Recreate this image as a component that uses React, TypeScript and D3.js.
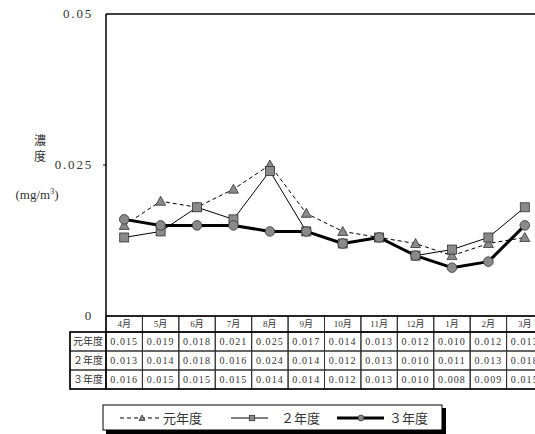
import React from "react";
import * as d3 from "d3";

const months = ["4月", "5月", "6月", "7月", "8月", "9月", "10月", "11月", "12月", "1月", "2月", "3月"];
const seriesNames = ["元年度", "２年度", "３年度"];
const rowLabels = ["元年度", "２年度", "３年度"];
const r1 = [0.015, 0.019, 0.018, 0.021, 0.025, 0.017, 0.014, 0.013, 0.012, 0.010, 0.012, 0.013];
const r2 = [0.013, 0.014, 0.018, 0.016, 0.024, 0.014, 0.012, 0.013, 0.010, 0.011, 0.013, 0.018];
const r3 = [0.016, 0.015, 0.015, 0.015, 0.014, 0.014, 0.012, 0.013, 0.010, 0.008, 0.009, 0.015];
const yTicks = [0, 0.025, 0.05];
const yTickLabels = ["0", "0.025", "0.05"];

const W = 535;
const H = 434;
const left = 106;
const right = 543;
const top = 14;
const bottom = 316;
const labelLeft = 70;
const headerBottom = 332;
const rowH = 19;

const serif = "'Liberation Serif', 'DejaVu Serif', 'Noto Sans CJK JP', serif";
const cjk = "'Noto Sans CJK JP', sans-serif";

function Marker({ kind, x, y, s = 1 }: { kind: number; x: number; y: number; s?: number }) {
  const fill = "#8a8a8a";
  const stroke = "#333";
  if (kind === 0) {
    const r = 5 * s;
    return (
      <path
        d={`M${x},${y - r} L${x + r},${y + r * 0.8} L${x - r},${y + r * 0.8} Z`}
        fill={fill}
        stroke={stroke}
        strokeWidth={0.8}
      />
    );
  }
  if (kind === 1) {
    const h = 4.5 * s;
    return <rect x={x - h} y={y - h} width={2 * h} height={2 * h} fill={fill} stroke={stroke} strokeWidth={0.8} />;
  }
  return <circle cx={x} cy={y} r={4.8 * s} fill={fill} stroke={stroke} strokeWidth={0.8} />;
}

export default function App() {
  const data = [r1, r2, r3];
  const x = d3.scaleBand<string>().domain(months).range([left, right]);
  const y = d3.scaleLinear().domain([0, 0.05]).range([bottom, top]);
  const cx = (m: string) => (x(m) as number) + x.bandwidth() / 2;
  const line = d3
    .line<number>()
    .x((_, i) => cx(months[i]))
    .y((d) => y(d));

  const lineStyles = [
    { w: 1, dash: "4,3" },
    { w: 1, dash: undefined },
    { w: 3, dash: undefined },
  ];

  const tableBottom = headerBottom + rowH * 3;

  return (
    <svg
      width={W}
      height={H}
      style={{ position: "fixed", left: 0, top: 0, background: "#fff" }}
    >
      <rect x={0} y={0} width={W} height={H} fill="#fff" />
      {/* y axis labels */}
      {yTicks.map((t, i) => (
        <g key={t}>
          <text
            x={93}
            y={y(t) + 4}
            textAnchor="end"
            fontFamily={serif}
            fontSize={13}
            letterSpacing={1.8}
            fill="#333"
          >
            {yTickLabels[i]}
          </text>
          {t > 0 && t < 0.05 && <line x1={left - 3} x2={left} y1={y(t)} y2={y(t)} stroke="#000" />}
        </g>
      ))}
      <text x={40} y={145} textAnchor="middle" fontFamily={cjk} fontSize={12} fill="#333">
        濃
      </text>
      <text x={40} y={161} textAnchor="middle" fontFamily={cjk} fontSize={12} fill="#333">
        度
      </text>
      <text x={37} y={199} textAnchor="middle" fontFamily={serif} fontSize={13} fill="#333">
        (mg/m<tspan fontSize={8} dy={-5}>3</tspan>
        <tspan dy={5}>)</tspan>
      </text>

      {/* plot frame */}
      <line x1={left} x2={left} y1={top} y2={bottom} stroke="#000" strokeWidth={1.5} />
      <line x1={left} x2={W} y1={top} y2={top} stroke="#000" strokeWidth={1.5} />

      {/* lines */}
      {data.map((s, k) => (
        <path
          key={k}
          d={line(s) || ""}
          fill="none"
          stroke="#000"
          strokeWidth={lineStyles[k].w}
          strokeDasharray={lineStyles[k].dash}
          strokeLinejoin="round"
        />
      ))}
      {data.map((s, k) =>
        s.map((v, i) => <Marker key={`${k}-${i}`} kind={k} x={cx(months[i])} y={y(v)} />)
      )}

      {/* table */}
      <g>
        {months.map((m) => (
          <g key={m}>
            <rect
              x={x(m) as number}
              y={bottom}
              width={x.bandwidth()}
              height={headerBottom - bottom}
              fill="none"
              stroke="#333"
              strokeWidth={1}
            />
            <text
              x={cx(m)}
              y={bottom + 11}
              textAnchor="middle"
              fontFamily={serif}
              fontSize={9}
              fill="#333"
            >
              {m}
            </text>
          </g>
        ))}
        {rowLabels.map((lab, r) => {
          const ry = headerBottom + r * rowH;
          return (
            <g key={lab}>
              <rect x={labelLeft} y={ry} width={left - labelLeft} height={rowH} fill="none" stroke="#333" />
              <text
                x={(labelLeft + left) / 2}
                y={ry + 13}
                textAnchor="middle"
                fontFamily={cjk}
                fontSize={10}
                fill="#333"
              >
                {lab}
              </text>
              {months.map((m, i) => (
                <g key={m}>
                  <rect x={x(m) as number} y={ry} width={x.bandwidth()} height={rowH} fill="none" stroke="#333" />
                  <text
                    x={cx(m)}
                    y={ry + 13}
                    textAnchor="middle"
                    fontFamily={serif}
                    fontSize={10}
                    letterSpacing={1.1}
                    fill="#333"
                  >
                    {data[r][i].toFixed(3)}
                  </text>
                </g>
              ))}
            </g>
          );
        })}
        <rect
          x={labelLeft}
          y={headerBottom}
          width={right - labelLeft}
          height={tableBottom - headerBottom}
          fill="none"
          stroke="#000"
          strokeWidth={1.5}
        />
        <line x1={left} x2={left} y1={bottom} y2={tableBottom} stroke="#000" strokeWidth={1.5} />
        <line x1={left} x2={right} y1={bottom} y2={bottom} stroke="#000" strokeWidth={1.5} />
      </g>

      {/* legend */}
      <g>
        <rect x={106} y={408} width={340} height={26} fill="#000" />
        <rect x={103} y={405} width={339} height={25} fill="#fff" stroke="#000" strokeWidth={1} />
        {[
          { x1: 120, x2: 160, mx: 142, tx: 163 },
          { x1: 231, x2: 268, mx: 252, tx: 281 },
          { x1: 337, x2: 384, mx: 361, tx: 389 },
        ].map((p, k) => (
          <g key={k}>
            <line
              x1={p.x1}
              x2={p.x2}
              y1={418}
              y2={418}
              stroke="#000"
              strokeWidth={lineStyles[k].w}
              strokeDasharray={lineStyles[k].dash}
            />
            <Marker kind={k} x={p.mx} y={418} s={0.6} />
            <text x={p.tx} y={423} fontFamily={cjk} fontSize={13} fill="#333">
              {seriesNames[k]}
            </text>
          </g>
        ))}
      </g>
    </svg>
  );
}
